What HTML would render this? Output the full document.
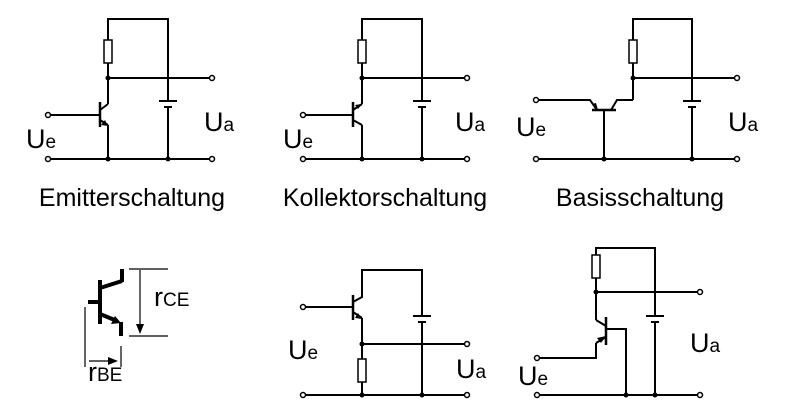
<!DOCTYPE html>
<html><head><meta charset="utf-8"><style>
html,body{margin:0;padding:0;background:#fff}
svg{display:block}
text{font-family:"Liberation Sans",Arial,sans-serif;fill:#000}
.w{stroke:#000;stroke-width:2;fill:none}
.t{stroke:#000;stroke-width:2.5;fill:none}
.th{stroke:#000;stroke-width:4;fill:none}
.thin{stroke:#000;stroke-width:1.2;fill:none}
.term{fill:#fff;stroke:#000;stroke-width:1.5}
.dot{fill:#000}
.res{fill:#fff;stroke:#000;stroke-width:1.5}
.lbl{font-size:27px}
.sub{font-size:19px}
.title{font-size:25px}
</style></head><body>
<svg width="800" height="420" viewBox="0 0 800 420">

<g>
 <polyline class="w" points="108,63 108,19 168,19 168,101"/>
 <rect class="res" x="104" y="40" width="8" height="23"/>
 <line class="w" x1="108" y1="63" x2="108" y2="104"/>
 <line class="w" x1="108" y1="78" x2="212" y2="78"/>
 <line class="w" x1="159" y1="101" x2="177" y2="101"/>
 <line class="w" x1="164" y1="107" x2="172" y2="107"/>
 <line class="w" x1="168" y1="107" x2="168" y2="159"/>
 <line class="t" x1="100" y1="102" x2="100" y2="127"/>
 <line class="w" x1="48" y1="115" x2="100" y2="115"/>
 <line class="w" x1="100" y1="110" x2="108" y2="104"/>
 <line class="w" x1="100" y1="120" x2="108" y2="125"/>
 <polygon points="108,126 101,125 105,120" class="dot"/>
 <line class="w" x1="108" y1="125" x2="108" y2="159"/>
 <line class="w" x1="48" y1="159" x2="212" y2="159"/>
 <circle class="dot" cx="108" cy="78" r="2.5"/><circle class="dot" cx="108" cy="159" r="2.5"/><circle class="dot" cx="168" cy="159" r="2.5"/>
 <circle class="term" cx="48" cy="115" r="2.5"/><circle class="term" cx="48" cy="159" r="2.5"/>
 <circle class="term" cx="212" cy="78" r="2.5"/><circle class="term" cx="212" cy="159" r="2.5"/>
 <text x="26" y="148" class="lbl">U<tspan class="sub">e</tspan></text>
 <text x="204" y="131" class="lbl">U<tspan class="sub">a</tspan></text>
 <text x="132" y="206" class="title" text-anchor="middle">Emitterschaltung</text>
</g>

<g>
 <polyline class="w" points="362,63 362,19 422,19 422,101"/>
 <rect class="res" x="358" y="40" width="8" height="23"/>
 <line class="w" x1="362" y1="63" x2="362" y2="104"/>
 <line class="w" x1="362" y1="78" x2="467" y2="78"/>
 <line class="w" x1="413" y1="101" x2="431" y2="101"/>
 <line class="w" x1="418" y1="107" x2="426" y2="107"/>
 <line class="w" x1="422" y1="107" x2="422" y2="159"/>
 <line class="t" x1="353" y1="102" x2="353" y2="127"/>
 <line class="w" x1="303" y1="115" x2="353" y2="115"/>
 <line class="w" x1="353" y1="110" x2="362" y2="104"/>
 <polygon points="362,104 355,105 358,109" class="dot"/>
 <line class="w" x1="353" y1="120" x2="362" y2="125"/>
 <line class="w" x1="362" y1="125" x2="362" y2="159"/>
 <line class="w" x1="303" y1="159" x2="467" y2="159"/>
 <circle class="dot" cx="362" cy="78" r="2.5"/><circle class="dot" cx="362" cy="159" r="2.5"/><circle class="dot" cx="422" cy="159" r="2.5"/>
 <circle class="term" cx="303" cy="115" r="2.5"/><circle class="term" cx="303" cy="159" r="2.5"/>
 <circle class="term" cx="467" cy="78" r="2.5"/><circle class="term" cx="467" cy="159" r="2.5"/>
 <text x="283" y="148" class="lbl">U<tspan class="sub">e</tspan></text>
 <text x="455" y="131" class="lbl">U<tspan class="sub">a</tspan></text>
 <text x="385" y="206" class="title" text-anchor="middle">Kollektorschaltung</text>
</g>

<g>
 <polyline class="w" points="633,63 633,19 692,19 692,101"/>
 <rect class="res" x="629" y="40" width="8" height="23"/>
 <line class="w" x1="633" y1="63" x2="633" y2="100"/>
 <line class="w" x1="633" y1="78" x2="737" y2="78"/>
 <line class="w" x1="683" y1="101" x2="701" y2="101"/>
 <line class="w" x1="688" y1="107" x2="696" y2="107"/>
 <line class="w" x1="692" y1="107" x2="692" y2="159"/>
 <line class="t" x1="592" y1="110" x2="616" y2="110"/>
 <polyline class="w" points="536,100 590,100 597,110"/>
 <polygon points="598,110 592,104 596,103" class="dot"/>
 <polyline class="w" points="611,110 617,100 633,100"/>
 <line class="w" x1="604" y1="110" x2="604" y2="159"/>
 <line class="w" x1="536" y1="159" x2="737" y2="159"/>
 <circle class="dot" cx="633" cy="78" r="2.5"/><circle class="dot" cx="604" cy="159" r="2.5"/><circle class="dot" cx="692" cy="159" r="2.5"/>
 <circle class="term" cx="536" cy="100" r="2.5"/><circle class="term" cx="536" cy="159" r="2.5"/>
 <circle class="term" cx="737" cy="78" r="2.5"/><circle class="term" cx="737" cy="159" r="2.5"/>
 <text x="516" y="136" class="lbl">U<tspan class="sub">e</tspan></text>
 <text x="728" y="131" class="lbl">U<tspan class="sub">a</tspan></text>
 <text x="640" y="206" class="title" text-anchor="middle">Basisschaltung</text>
</g>

<g>
 <line class="th" x1="100" y1="280" x2="100" y2="324"/>
 <line class="th" x1="88" y1="302" x2="100" y2="302"/>
 <line class="th" x1="100" y1="288" x2="122" y2="281"/>
 <line class="th" x1="122" y1="282" x2="122" y2="269"/>
 <line class="th" x1="100" y1="314" x2="117" y2="321"/>
 <polygon points="121,323 111,324 115,316" class="dot"/>
 <line class="th" x1="121" y1="322" x2="121" y2="336"/>
 <line class="thin" x1="129" y1="269" x2="168" y2="269"/>
 <line class="thin" x1="129" y1="336" x2="168" y2="336"/>
 <line class="thin" x1="140" y1="270" x2="140" y2="326"/>
 <polygon points="140,334 136,324 144,324" class="dot"/>
 <line class="thin" x1="85" y1="307" x2="85" y2="367"/>
 <line class="thin" x1="121" y1="346" x2="121" y2="367"/>
 <line class="thin" x1="89" y1="361" x2="110" y2="361"/>
 <polygon points="118,361 108,357 108,365" class="dot"/>
 <text x="154" y="306" class="lbl">r<tspan class="sub">CE</tspan></text>
 <text x="88" y="381" class="lbl">r<tspan class="sub">BE</tspan></text>
</g>

<g>
 <polyline class="w" points="362,298 362,270 422,270 422,316"/>
 <line class="t" x1="353" y1="295" x2="353" y2="320"/>
 <line class="w" x1="303" y1="307" x2="353" y2="307"/>
 <line class="w" x1="353" y1="302" x2="362" y2="297"/>
 <line class="w" x1="353" y1="312" x2="362" y2="318"/>
 <polygon points="362,319 355,318 358,313" class="dot"/>
 <line class="w" x1="362" y1="318" x2="362" y2="359"/>
 <line class="w" x1="362" y1="344" x2="467" y2="344"/>
 <rect class="res" x="358" y="359" width="8" height="23"/>
 <line class="w" x1="362" y1="382" x2="362" y2="395"/>
 <line class="w" x1="413" y1="316" x2="431" y2="316"/>
 <line class="w" x1="418" y1="322" x2="426" y2="322"/>
 <line class="w" x1="422" y1="322" x2="422" y2="395"/>
 <line class="w" x1="303" y1="395" x2="467" y2="395"/>
 <circle class="dot" cx="362" cy="344" r="2.5"/><circle class="dot" cx="362" cy="395" r="2.5"/><circle class="dot" cx="422" cy="395" r="2.5"/>
 <circle class="term" cx="303" cy="307" r="2.5"/><circle class="term" cx="303" cy="395" r="2.5"/>
 <circle class="term" cx="467" cy="344" r="2.5"/><circle class="term" cx="467" cy="395" r="2.5"/>
 <text x="288" y="359" class="lbl">U<tspan class="sub">e</tspan></text>
 <text x="456" y="378" class="lbl">U<tspan class="sub">a</tspan></text>
</g>

<g>
 <polyline class="w" points="596,278 596,248 655,248 655,316"/>
 <rect class="res" x="592" y="255" width="8" height="23"/>
 <line class="w" x1="596" y1="278" x2="596" y2="320"/>
 <line class="w" x1="596" y1="292" x2="700" y2="292"/>
 <line class="t" x1="606" y1="317" x2="606" y2="345"/>
 <line class="w" x1="596" y1="320" x2="606" y2="326"/>
 <polyline class="w" points="606,329 626,329 626,395"/>
 <line class="w" x1="606" y1="337" x2="596" y2="343"/>
 <polygon points="606,336 597,338 601,343" class="dot"/>
 <polyline class="w" points="596,343 596,358 537,358"/>
 <line class="w" x1="646" y1="316" x2="664" y2="316"/>
 <line class="w" x1="651" y1="322" x2="659" y2="322"/>
 <line class="w" x1="655" y1="322" x2="655" y2="395"/>
 <line class="w" x1="537" y1="395" x2="700" y2="395"/>
 <circle class="dot" cx="596" cy="292" r="2.5"/><circle class="dot" cx="626" cy="395" r="2.5"/><circle class="dot" cx="655" cy="395" r="2.5"/>
 <circle class="term" cx="537" cy="358" r="2.5"/><circle class="term" cx="537" cy="395" r="2.5"/>
 <circle class="term" cx="700" cy="292" r="2.5"/><circle class="term" cx="700" cy="395" r="2.5"/>
 <text x="518" y="385" class="lbl">U<tspan class="sub">e</tspan></text>
 <text x="690" y="352" class="lbl">U<tspan class="sub">a</tspan></text>
</g>
</svg>
</body></html>
